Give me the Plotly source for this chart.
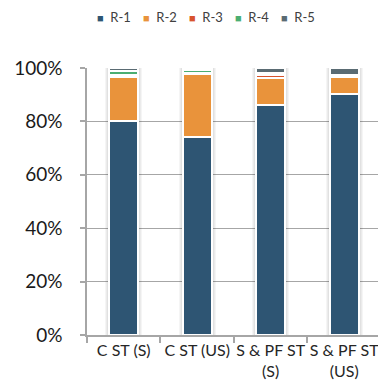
import plotly.graph_objects as go

# Share of each rating class per test setup (percent of total)
categories = ["C ST (S)", "C ST (US)", "S & PF ST<br>(S)", "S & PF ST<br>(US)"]
series_names = ["R-1", "R-2", "R-3", "R-4", "R-5"]
r1 = [80.0, 74.0, 86.0, 90.2]
r2 = [16.6, 23.6, 10.4, 6.6]
r3 = [0.6, 0.4, 0.8, 0.3]
r4 = [1.6, 1.4, 1.0, 0.3]
r5 = [1.2, 0.6, 1.8, 2.6]
y_ticks = [0, 20, 40, 60, 80, 100]

series_values = [r1, r2, r3, r4, r5]
colors = ["#2E5573", "#E9933B", "#D8532D", "#4BAE72", "#5A6B73"]
totals = [sum(v) for v in zip(*series_values)]

BAR_W = 0.4
FONT = "Lato, 'Open Sans', sans-serif"

fig = go.Figure()

# soft drop shadow around each stacked column (drawn first, overlaid via base)
for k in range(1, 5):
    fig.add_trace(go.Bar(
        x=categories, y=totals, base=[0] * len(totals),
        width=BAR_W + 2 * k / 73.5,
        marker=dict(color="rgba(0,0,0,0.04)", line=dict(width=0)),
        showlegend=False, hoverinfo="skip",
    ))

for name, vals, col in zip(series_names, series_values, colors):
    fig.add_trace(go.Bar(
        x=categories, y=vals, name=name, width=BAR_W,
        marker=dict(color=col, line=dict(color="white", width=2)),
        showlegend=False,
    ))
    # legend entry: small coloured square key followed by the series name
    fig.add_trace(go.Scatter(
        x=[None], y=[None], mode="markers",
        name=f'<span style="color:{col};font-size:11px">■</span>\u00a0\u00a0{name}',
        marker=dict(symbol="square", size=1, color="rgba(0,0,0,0)"),
        showlegend=True,
    ))

# blank trailing entry so the last legend label is not clipped
fig.add_trace(go.Scatter(
    x=[None], y=[None], mode="markers", name="\u00a0",
    marker=dict(symbol="square", size=1, color="rgba(0,0,0,0)"),
    showlegend=True,
))

fig.update_layout(
    template="none",
    width=378, height=390,
    margin=dict(l=87, r=0, t=68, b=55, autoexpand=False),
    barmode="stack",
    plot_bgcolor="white", paper_bgcolor="white",
    font=dict(family=FONT, color="#262626"),
    legend=dict(
        orientation="h", x=-0.103, xanchor="left",
        yref="paper", y=1.191, yanchor="middle",
        font=dict(size=13, color="#404040"),
        itemwidth=30, traceorder="normal",
        entrywidth=1, entrywidthmode="pixels",
        bgcolor="rgba(0,0,0,0)",
    ),
)

fig.update_xaxes(
    range=[-0.5, 3.46], automargin=False, tickangle=0,
    showline=True, linecolor="#A6A6A6", linewidth=1.5,
    ticks="outside", tickson="boundaries", ticklen=6, tickcolor="#A6A6A6", tickwidth=1.5,
    tickfont=dict(size=16, color="#262626"),
    showgrid=False, zeroline=False,
)

fig.update_yaxes(
    range=[0, 100], automargin=False,
    tickmode="array", tickvals=y_ticks, ticktext=[f"{v}%" for v in y_ticks],
    showline=True, linecolor="#A6A6A6", linewidth=1.5,
    ticks="outside", ticklen=5, tickcolor="#A6A6A6", tickwidth=1.5,
    tickfont=dict(size=19, color="#1A1A1A"),
    ticklabelstandoff=14,
    showgrid=True, gridcolor="#A6A6A6", gridwidth=1,
    zeroline=False,
)

fig.write_html("out.html")
